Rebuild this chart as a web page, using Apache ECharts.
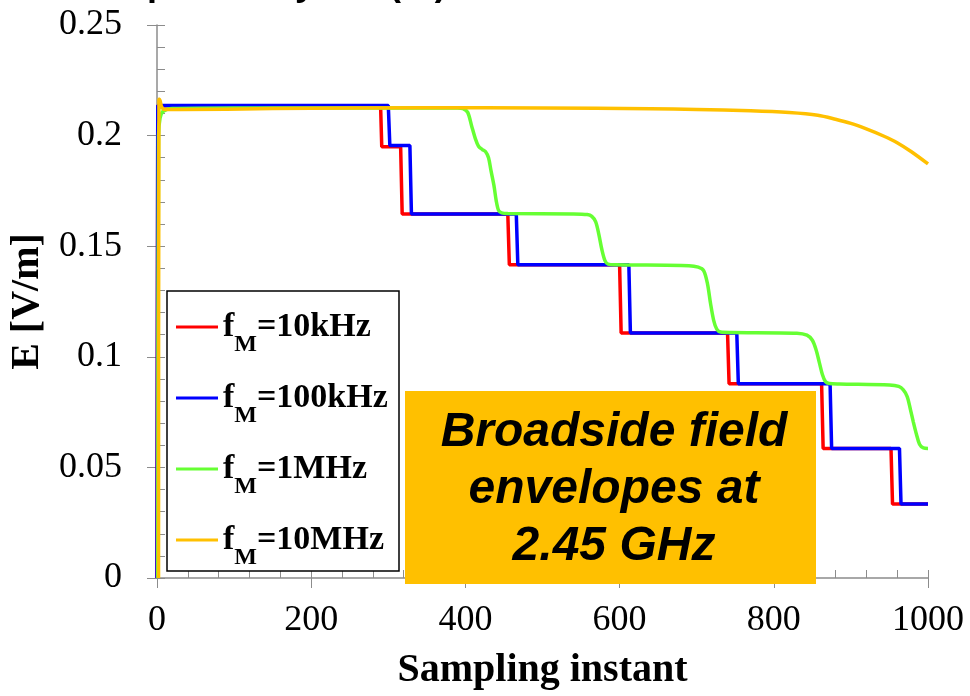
<!DOCTYPE html>
<html>
<head>
<meta charset="utf-8">
<script src="https://cdn.jsdelivr.net/npm/echarts/dist/echarts.min.js"></script>
<style>
  html, body { margin: 0; padding: 0; background: #fff; }
  #chart { width: 970px; height: 696px; }
</style>
</head>
<body>
<div id="chart"></div>
<script>
// valeurs : [instant, E en V/m]
var legendNames = ['10kHz', '100kHz', '1MHz', '10MHz'];
var lineColors = ['#ff0000', '#0000ff', '#66ff33', '#ffc000'];

var red10k = [[0, 0], [1, 0.2135], [290, 0.2135], [291.5, 0.195], [316, 0.195], [318, 0.1646],
  [455, 0.1646], [457, 0.1416], [600, 0.1416], [602, 0.1108], [740, 0.1108], [742, 0.0878],
  [862, 0.0878], [864, 0.0586], [952, 0.0586], [954, 0.0334], [1000, 0.0334]];

var blue100k = [[0, 0], [1, 0.2136], [300, 0.2136], [302, 0.1955], [328, 0.1955], [330, 0.1646],
  [466, 0.1646], [468, 0.1416], [612, 0.1416], [614, 0.1108], [752, 0.1108], [754, 0.0878],
  [873, 0.0878], [875, 0.0586], [963, 0.0586], [965, 0.0334], [1000, 0.0334]];

var green1M = [[1, 0], [2, 0.2], [4, 0.208], [8, 0.211], [20, 0.2122], [100, 0.2125], [390, 0.2125],
  [397, 0.2122], [403, 0.2105], [408, 0.2045], [413, 0.1985], [417, 0.1952], [422, 0.1937],
  [426, 0.1928], [430, 0.19], [433, 0.1845], [437, 0.1775], [440, 0.1705], [443, 0.1662],
  [447, 0.1651], [455, 0.1648], [540, 0.1646], [558, 0.1643], [564, 0.1635], [569, 0.161],
  [573, 0.1555], [577, 0.1485], [581, 0.1435], [585, 0.1419], [595, 0.1416], [690, 0.1412],
  [702, 0.1405], [709, 0.139], [714, 0.133], [718, 0.124], [722, 0.1165], [726, 0.1125],
  [731, 0.1112], [745, 0.111], [830, 0.1107], [843, 0.1098], [850, 0.1075], [855, 0.103],
  [859, 0.0975], [863, 0.092], [867, 0.0888], [872, 0.0879], [885, 0.0877], [950, 0.0873],
  [962, 0.0866], [968, 0.085], [973, 0.082], [977, 0.0765], [981, 0.0705], [985, 0.065],
  [989, 0.0605], [994, 0.0588], [1000, 0.0586]];

var yellow10M = [[2, 0], [2.5, 0.2165], [4, 0.2158], [6, 0.213], [10, 0.2118], [30, 0.2118],
  [150, 0.2122], [350, 0.2126], [500, 0.2125], [640, 0.2121], [700, 0.2118], [770, 0.2112],
  [820, 0.2104], [857, 0.2092], [880, 0.2074], [900, 0.2055], [920, 0.203], [943, 0.1997],
  [960, 0.1968], [978, 0.1928], [1000, 0.1872]];

var seriesData = [red10k, blue100k, green1M, yellow10M];
var smoothFlags = [false, false, 0.3, 0.3];

var serif = '"Liberation Serif", "Times New Roman", serif';
var sans = '"Liberation Sans", Arial, sans-serif';
var axisGray = '#8c8c8c';

var chart = echarts.init(document.getElementById('chart'));

var series = seriesData.map(function (d, i) {
  return {
    name: legendNames[i],
    type: 'line',
    data: d,
    symbol: 'none',
    smooth: smoothFlags[i],
    clip: false,
    lineStyle: { color: lineColors[i], width: 3.5 },
    itemStyle: { color: lineColors[i] },
    emphasis: { disabled: true },
    z: 2 + i
  };
});

var option = {
  animation: false,
  backgroundColor: '#fff',
  grid: { left: 157, right: 42, top: 25, bottom: 116 },
  xAxis: [
    {
      type: 'value', min: 0, max: 1000, interval: 200,
      name: 'Sampling instant', nameLocation: 'middle', nameGap: 73,
      nameTextStyle: { fontFamily: serif, fontSize: 40, fontWeight: 'bold', color: '#000' },
      axisLine: { show: true, lineStyle: { color: axisGray, width: 1.5 } },
      axisTick: { show: true, inside: true, length: 8, lineStyle: { color: axisGray } },
      minorTick: { show: true, splitNumber: 5, length: 8, lineStyle: { color: axisGray } },
      axisLabel: {
        fontFamily: serif, fontSize: 36, color: '#000', margin: 25,
        formatter: function (v) { return String(v); }
      },
      splitLine: { show: false }
    },
    {
      type: 'value', min: 0, max: 1000, interval: 200, position: 'bottom',
      axisLine: { show: false },
      axisTick: { show: true, length: 10, lineStyle: { color: axisGray } },
      axisLabel: { show: false },
      splitLine: { show: false }
    }
  ],
  yAxis: [
    {
      type: 'value', min: 0, max: 0.25, interval: 0.05,
      name: 'E [V/m]', nameLocation: 'middle', nameGap: 106,
      nameTextStyle: { fontFamily: serif, fontSize: 40, fontWeight: 'bold', color: '#000' },
      axisLine: { show: true, lineStyle: { color: axisGray, width: 1.5 } },
      axisTick: { show: true, inside: true, length: 8, lineStyle: { color: axisGray } },
      minorTick: { show: true, splitNumber: 5, length: 8, lineStyle: { color: axisGray } },
      axisLabel: { fontFamily: serif, fontSize: 36, color: '#000', margin: 35 },
      splitLine: { show: false }
    },
    {
      type: 'value', min: 0, max: 0.25, interval: 0.05, position: 'left', offset: 0,
      axisLine: { show: false },
      axisTick: { show: true, length: 10, lineStyle: { color: axisGray } },
      axisLabel: { show: false },
      splitLine: { show: false }
    }
  ],
  legend: {
    orient: 'vertical',
    left: 176, top: 310,
    padding: 0,
    icon: 'rect',
    itemWidth: 42, itemHeight: 3, itemGap: 24,
    selectedMode: false,
    data: legendNames,
    formatter: function (name) {
      return '{a|f}{b|M}{a|=' + name + '}';
    },
    textStyle: {
      color: '#000',
      rich: {
        a: { fontFamily: serif, fontSize: 34, fontWeight: 'bold', color: '#000', lineHeight: 60 },
        b: { fontFamily: serif, fontSize: 24, fontWeight: 'bold', color: '#000', lineHeight: 20, verticalAlign: 'bottom' }
      }
    }
  },
  graphic: [
    {
      type: 'rect', z: 3,
      shape: { x: 167, y: 291, width: 232, height: 280 },
      style: { fill: '#fff', stroke: '#000', lineWidth: 1.5 }
    },
    {
      type: 'rect', z: 100,
      shape: { x: 405, y: 391, width: 411, height: 193 },
      style: { fill: '#ffc000' }
    },
    {
      type: 'text', z: 101, x: 614, y: 490,
      style: {
        text: 'Broadside field\nenvelopes at\n2.45 GHz',
        fontFamily: sans, fontSize: 48, fontWeight: 'bold', fontStyle: 'italic',
        lineHeight: 57, fill: '#000', align: 'center', verticalAlign: 'middle'
      }
    },
    {
      type: 'text', z: 101, x: 101, y: -15,
      style: {
        text: '{a|Dependency  on (f}{b|M}{a|)}',
        align: 'left', verticalAlign: 'middle',
        rich: {
          a: { fontFamily: sans, fontSize: 36, fontWeight: 'bold', fill: '#000', lineHeight: 36 },
          b: { fontFamily: sans, fontSize: 26, fontWeight: 'bold', fill: '#000', lineHeight: 16, verticalAlign: 'bottom' }
        }
      }
    }
  ],
  series: series
};

chart.setOption(option);
</script>
</body>
</html>
